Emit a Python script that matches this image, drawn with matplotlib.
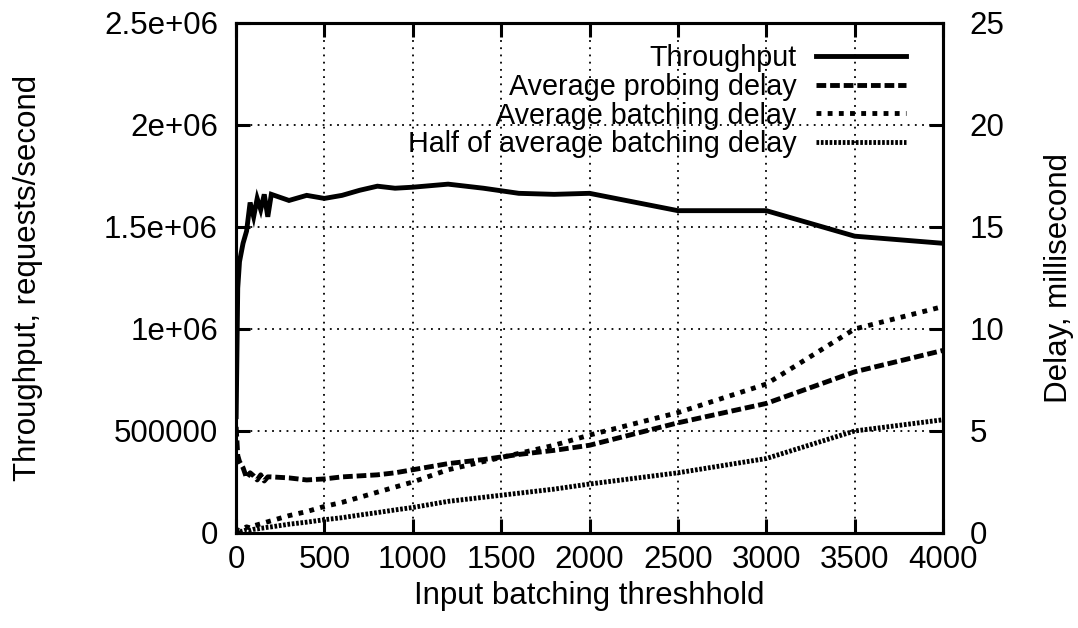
import matplotlib
matplotlib.use("Agg")
import matplotlib.pyplot as plt
from matplotlib.ticker import FixedLocator, FixedFormatter

threshold = [1, 10, 20, 40, 60, 80, 100, 120, 140, 160, 180, 200, 300, 400, 500,
             600, 700, 800, 900, 1000, 1200, 1400, 1600, 1800, 2000, 2500, 3000,
             3500, 4000]
throughput = [570000, 1200000, 1330000, 1420000, 1480000, 1620000, 1550000,
              1640000, 1585000, 1660000, 1550000, 1660000, 1630000, 1655000,
              1640000, 1655000, 1680000, 1700000, 1690000, 1695000, 1710000,
              1690000, 1665000, 1660000, 1665000, 1580000, 1580000, 1455000,
              1420000]
probing_delay = [5.2, 3.8, 3.5, 3.2, 2.7, 2.95, 2.8, 2.6, 2.85, 2.55, 2.75, 2.75,
                 2.7, 2.6, 2.65, 2.75, 2.8, 2.85, 2.95, 3.1, 3.4, 3.6, 3.85, 4.05,
                 4.3, 5.4, 6.35, 7.9, 8.95]
batching_delay = [0.05, 0.15, 0.1, 0.2, 0.3, 0.25, 0.35, 0.4, 0.45, 0.5, 0.55,
                  0.6, 0.85, 1.05, 1.3, 1.5, 1.75, 2.0, 2.25, 2.5, 3.1, 3.5, 3.9,
                  4.3, 4.8, 5.9, 7.3, 10.0, 11.1]
half_batching_delay = [0.03, 0.08, 0.05, 0.1, 0.15, 0.13, 0.18, 0.2, 0.23, 0.25,
                       0.28, 0.3, 0.43, 0.53, 0.65, 0.75, 0.88, 1.0, 1.13, 1.25,
                       1.55, 1.75, 1.95, 2.15, 2.4, 2.95, 3.65, 5.0, 5.55]

left_ticks = [0, 500000, 1000000, 1500000, 2000000, 2500000]
left_labels = ["0", "500000", "1e+06", "1.5e+06", "2e+06", "2.5e+06"]
right_ticks = [0, 5, 10, 15, 20, 25]
x_ticks = [0, 500, 1000, 1500, 2000, 2500, 3000, 3500, 4000]

plt.rcParams['font.family'] = ['Liberation Sans', 'DejaVu Sans']
fs = 22.5

fig = plt.figure(figsize=(10.78, 6.28), dpi=100)
ax = fig.add_axes([0.2189, 0.1513, 0.6559, 0.8121])
ax2 = ax.twinx()

lw = 3.5
l1, = ax.plot(threshold, throughput, color='black', lw=lw,
              solid_joinstyle='miter', label='Throughput')
l2, = ax2.plot(threshold, probing_delay, color='black', lw=lw,
               dashes=(2.0, 0.8), label='Average probing delay')
l3, = ax2.plot(threshold, batching_delay, color='black', lw=lw,
               dashes=(1.0, 1.3), label='Average batching delay')
l4, = ax2.plot(threshold, half_batching_delay, color='black', lw=lw,
               dashes=(0.55, 0.35), label='Half of average batching delay')

ax.set_xlim(0, 4000)
ax.set_ylim(0, 2500000)
ax2.set_ylim(0, 25)

ax.xaxis.set_major_locator(FixedLocator(x_ticks))
ax.yaxis.set_major_locator(FixedLocator(left_ticks))
ax.yaxis.set_major_formatter(FixedFormatter(left_labels))
ax2.yaxis.set_major_locator(FixedLocator(right_ticks))

ax.grid(True, color='black', linestyle=(0, (1, 3)), linewidth=1.3)

for a in (ax, ax2):
    for s in a.spines.values():
        s.set_linewidth(2.2)
    a.tick_params(direction='in', length=10, width=2.2, labelsize=fs)
ax.tick_params(top=True)
ax.tick_params(axis='y', pad=13)
ax.tick_params(axis='x', pad=9)
ax2.tick_params(axis='y', right=True, pad=19)

ax.set_xlabel('Input batching threshhold', fontsize=fs, labelpad=4)
ax.set_ylabel('Throughput, requests/second', fontsize=fs)
ax2.set_ylabel('Delay, millisecond', fontsize=fs)
ax.yaxis.set_label_coords(-0.273, 0.5)
ax2.yaxis.set_label_coords(1.143, 0.5)

leg = ax2.legend(handles=[l1, l2, l3, l4], loc='upper right', frameon=False,
                 markerfirst=False, fontsize=20.7, handlelength=3.1,
                 handletextpad=0.7, labelspacing=0.02,
                 bbox_to_anchor=(0.947, 0.958), borderaxespad=0.0,
                 borderpad=0.0)

fig.savefig('out.png', dpi=100)
